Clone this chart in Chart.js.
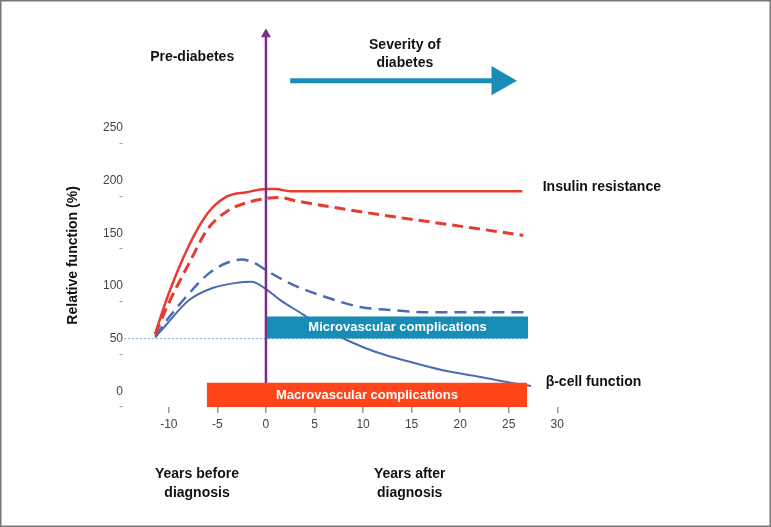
<!DOCTYPE html>
<html>
<head>
<meta charset="utf-8">
<script src="https://cdn.jsdelivr.net/npm/chart.js@4"></script>
<style>
	body { margin: 0; background: #fff; }
	canvas { display: block; }
</style>
</head>
<body>
<canvas id="myChart" width="771" height="527"></canvas>
<script>
'use strict';

// years relative to diagnosis / relative function (%)
var insulinX = [-11.4, -10, -8, -6, -4, -2, 0, 1, 2.5, 26.4];
var insulinY = [55, 93, 137, 169, 185, 189, 192, 192, 190, 190];

var insulinDashX = [-11.4, -10, -8, -6, -4, -2, 0, 1.5, 3, 26.5];
var insulinDashY = [54, 84, 120, 154, 171, 179, 183, 184, 181, 148];

var betaDashX = [-11.4, -10, -8, -6, -4, -2.5, -1, 0, 2.8, 6.3, 9.7, 13.1, 16.6, 26.9];
var betaDashY = [52, 70, 92, 111, 122, 125, 121, 115, 101, 89, 80, 77, 75, 75];

var betaX = [-11.4, -10, -8, -5.5, -3, -1.5, 0, 1.4, 3.8, 6.3, 8.7, 11.4, 14.8, 18.2, 21.8, 25.2, 27.3];
var betaY = [51, 66, 86, 98, 103, 104, 97, 87, 73, 58, 47, 37, 28, 20, 14, 8, 5];

// complication bands: [start year, end year] and [low, high] value
var microYears = [0.1, 27];
var microRange = [50, 71];
var macroYears = [-6.1, 26.9];
var macroRange = [-15, 8];

// baseline and arrows
var baselineYears = [-14.6, 26.9];
var baselineValue = 50;
var diagnosisYear = 0;
var diagnosisRange = [-15, 339];
var severityYears = [2.5, 24.1];
var severityValue = 295;

var xTicks = [-10, -5, 0, 5, 10, 15, 20, 25, 30];
var yTicks = [0, 50, 100, 150, 200, 250];
var yMarks = [-15, 35, 85, 135, 185, 235];

Chart.defaults.font.family = 'Arial, "Liberation Sans", sans-serif';

function pts(xs, ys){
	return xs.map(function(x, i){ return { x: x, y: ys[i] }; });
}

function flat(xs, v){
	return xs.map(function(x){ return { x: x, y: v }; });
}

var notes = {
	id: 'notes',
	beforeDraw: function(chart){
		var c = chart.ctx;
		c.save();
		c.fillStyle = '#fff';
		c.fillRect(0, 0, chart.width, chart.height);
		c.strokeStyle = '#777';
		c.lineWidth = 1.5;
		c.strokeRect(0.75, 0.75, chart.width - 1.5, chart.height - 1.5);
		c.restore();
	},
	afterDatasetsDraw: function(chart){
		var c = chart.ctx, xs = chart.scales.x, ys = chart.scales.y;
		var px = function(v){ return xs.getPixelForValue(v); };
		var py = function(v){ return ys.getPixelForValue(v); };
		var bold14 = 'bold 14px Arial, "Liberation Sans", sans-serif';
		var bold13 = 'bold 13px Arial, "Liberation Sans", sans-serif';

		function txt(s, x, y, align, font, color){
			c.font = font;
			c.fillStyle = color;
			c.textAlign = align;
			c.textBaseline = 'middle';
			c.fillText(s, x, y);
		}

		c.save();
		txt('Microvascular complications', px((microYears[0] + microYears[1]) / 2), py((microRange[0] + microRange[1]) / 2), 'center', bold13, '#fff');
		txt('Macrovascular complications', px((macroYears[0] + macroYears[1]) / 2), py((macroRange[0] + macroRange[1]) / 2) + 1, 'center', bold13, '#fff');

		txt('Pre-diabetes', px(-7.6), py(317), 'center', bold14, '#111');
		txt('Severity of', px(14.3), py(329), 'center', bold14, '#111');
		txt('diabetes', px(14.3), py(312), 'center', bold14, '#111');
		txt('Insulin resistance', px(28.5), py(193.5), 'left', bold14, '#111');
		txt('\u03b2-cell function', px(28.8), py(8.5), 'left', bold14, '#111');

		txt('Years before', px(-7.1), py(-79), 'center', bold14, '#111');
		txt('diagnosis', px(-7.1), py(-97), 'center', bold14, '#111');
		txt('Years after', px(14.8), py(-79), 'center', bold14, '#111');
		txt('diagnosis', px(14.8), py(-97), 'center', bold14, '#111');

		c.translate(chart.chartArea.left - 57, py(129));
		c.rotate(-Math.PI / 2);
		txt('Relative function (%)', 0, 0, 'center', bold14, '#111');
		c.restore();
	}
};

var ctx = document.getElementById('myChart').getContext('2d');
var myChart = new Chart(ctx, {
	type: 'line',
	data: {
		datasets: [{
			label: 'Macrovascular complications',
			data: flat(macroYears, macroRange[1]),
			fill: { value: macroRange[0] },
			backgroundColor: '#ff4519',
			borderColor: 'transparent',
			borderWidth: 0,
			pointRadius: 0
		}, {
			label: 'Microvascular complications',
			data: flat(microYears, microRange[1]),
			fill: { value: microRange[0] },
			backgroundColor: '#178cb4',
			borderColor: 'transparent',
			borderWidth: 0,
			pointRadius: 0
		}, {
			label: 'Diagnosis',
			data: diagnosisRange.map(function(v){ return { x: diagnosisYear, y: v }; }),
			borderColor: '#7b2d8c',
			backgroundColor: '#7b2d8c',
			borderWidth: 2.5,
			pointStyle: 'triangle',
			pointRadius: [0, 5],
			pointBorderWidth: 1,
			clip: false
		}, {
			label: 'Insulin resistance',
			data: pts(insulinX, insulinY),
			borderColor: '#e63b2f',
			borderWidth: 2.5,
			pointRadius: 0,
			cubicInterpolationMode: 'monotone'
		}, {
			label: 'Insulin resistance (dashed)',
			data: pts(insulinDashX, insulinDashY),
			borderColor: '#e63b2f',
			borderWidth: 3,
			borderDash: [11, 6],
			pointRadius: 0,
			cubicInterpolationMode: 'monotone'
		}, {
			label: 'Beta-cell function (dashed)',
			data: pts(betaDashX, betaDashY),
			borderColor: '#4a6cb0',
			borderWidth: 2.5,
			borderDash: [12, 7],
			pointRadius: 0,
			cubicInterpolationMode: 'monotone'
		}, {
			label: 'Beta-cell function',
			data: pts(betaX, betaY),
			borderColor: '#4a6cb0',
			borderWidth: 2,
			pointRadius: 0,
			cubicInterpolationMode: 'monotone'
		}, {
			label: 'Baseline',
			data: flat(baselineYears, baselineValue),
			borderColor: '#86b3e3',
			borderWidth: 1.2,
			borderDash: [2, 2],
			pointRadius: 0,
			clip: false
		}, {
			label: 'Severity of diabetes',
			data: flat(severityYears, severityValue),
			borderColor: '#1a8db6',
			backgroundColor: '#1a8db6',
			borderWidth: 5,
			pointStyle: 'triangle',
			pointRotation: 90,
			pointRadius: [0, 17],
			pointBorderWidth: 0,
			clip: false
		}]
	},
	options: {
		responsive: false,
		animation: false,
		events: [],
		layout: { padding: { left: 60, right: 204, top: 28, bottom: 90 } },
		plugins: {
			legend: { display: false },
			tooltip: { enabled: false }
		},
		scales: {
			x: {
				type: 'linear',
				min: -14,
				max: 31,
				afterBuildTicks: function(s){
					s.ticks = xTicks.map(function(v){ return { value: v }; });
				},
				afterFit: function(s){ s.height = 30; },
				border: { display: false },
				grid: { display: true, drawOnChartArea: false, drawTicks: true, tickLength: 6, color: '#999', lineWidth: 1.5 },
				ticks: {
					padding: 4,
					autoSkip: false,
					maxRotation: 0,
					color: '#444',
					font: { size: 12 },
					callback: function(v){ return String(v); }
				}
			},
			y: {
				type: 'linear',
				min: -15,
				max: 345,
				afterBuildTicks: function(s){
					s.ticks = yTicks.concat(yMarks).sort(function(a, b){ return a - b; }).map(function(v){ return { value: v }; });
				},
				afterFit: function(s){ s.width = 70; },
				border: { display: false },
				grid: { display: false, drawTicks: false },
				ticks: {
					padding: 7,
					autoSkip: false,
					font: { size: 12 },
					color: function(c){ return yTicks.indexOf(c.tick.value) >= 0 ? '#444' : '#999'; },
					callback: function(v){ return yTicks.indexOf(v) >= 0 ? String(v) : '-'; }
				}
			}
		}
	},
	plugins: [notes]
});
</script>
</body>
</html>
